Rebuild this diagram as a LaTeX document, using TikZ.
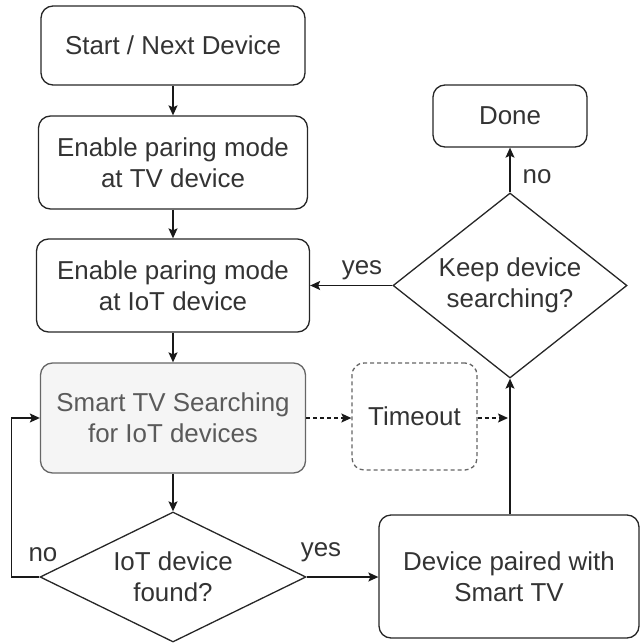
\documentclass[tikz,border=0pt]{standalone}
\usepackage{fontspec}
\setmainfont{Liberation Sans}
\usetikzlibrary{shapes.geometric,arrows.meta}
\definecolor{txt}{HTML}{333333}
\definecolor{graytxt}{HTML}{5A5A5A}
\definecolor{grayline}{HTML}{666666}
\definecolor{grayfill}{HTML}{F5F5F5}
\begin{document}
\begin{tikzpicture}[x=1pt,y=-1pt,
  font=\fontsize{25.9}{31}\selectfont,
  box/.style={draw=black!85, line width=1.3pt, rounded corners=12pt, align=center, text=txt, inner sep=0pt},
  dia/.style={draw=black!85, diamond, line width=1.3pt, align=center, inner sep=0pt, text=txt},
  arr/.style={draw=black!90, line width=1.3pt, -{Stealth[length=10pt,width=9pt,inset=2pt]}},
  darr/.style={arr, dash pattern=on 4pt off 3pt},
  lbl/.style={text=txt, inner sep=0pt}]
\useasboundingbox (0,0) rectangle (640,644);
% left column
\node[box, minimum width=264pt, minimum height=79pt] (start) at (173,45.5) {Start / Next Device};
\node[box, minimum width=269pt, minimum height=93pt] (tv) at (173,162.5) {Enable paring mode\\at TV device};
\node[box, minimum width=273pt, minimum height=93pt] (iot) at (173,285.5) {Enable paring mode\\at IoT device};
\node[box, draw=grayline, fill=grayfill, text=graytxt, minimum width=265pt, minimum height=110pt] (smart) at (173,418) {Smart TV Searching\\for IoT devices};
\node[dia, minimum width=266pt, minimum height=130pt, aspect=2.05] (found) at (173,577) {IoT device\\found?};
% right column
\node[box, draw=grayline, dash pattern=on 4pt off 3pt, minimum width=125pt, minimum height=107pt] (tmo) at (414.5,416.5) {Timeout};
\node[box, minimum width=154pt, minimum height=62pt] (done) at (510,116) {Done};
\node[dia, minimum width=234pt, minimum height=185pt, aspect=1.27] (keep) at (510,285.5) {Keep device\\searching?};
\node[box, minimum width=260pt, minimum height=123pt] (paired) at (509,576.5) {Device paired with\\Smart TV};
\coordinate (join) at (510,418);
% connectors
\draw[arr] (start.south) -- (tv.north);
\draw[arr] (tv.south) -- (iot.north);
\draw[arr] (iot.south) -- (smart.north);
\draw[arr] (smart.south) -- (found.north);
\draw[arr] (found.east) -- (found.east -| paired.west);
\draw[arr] (found.west) -- ++(-28,0) |- (smart.west);
\draw[darr] (smart.east) -- (smart.east -| tmo.west);
\draw[darr, shorten >=2pt] (tmo.east |- join) -- (join);
\draw[arr] (paired.north -| keep.south) -- (keep.south);
\draw[arr] (keep.north) -- (done.south -| keep.north);
\draw[arr] (keep.west) -- (keep.west -| iot.east);
% labels
\node[lbl] (lno1) at (43,555) {no};
\node[lbl] (lyes1) at (321,552) {yes};
\node[lbl] (lyes2) at (362,270) {yes};
\node[lbl] (lno2) at (537,177) {no};
\end{tikzpicture}
\end{document}
